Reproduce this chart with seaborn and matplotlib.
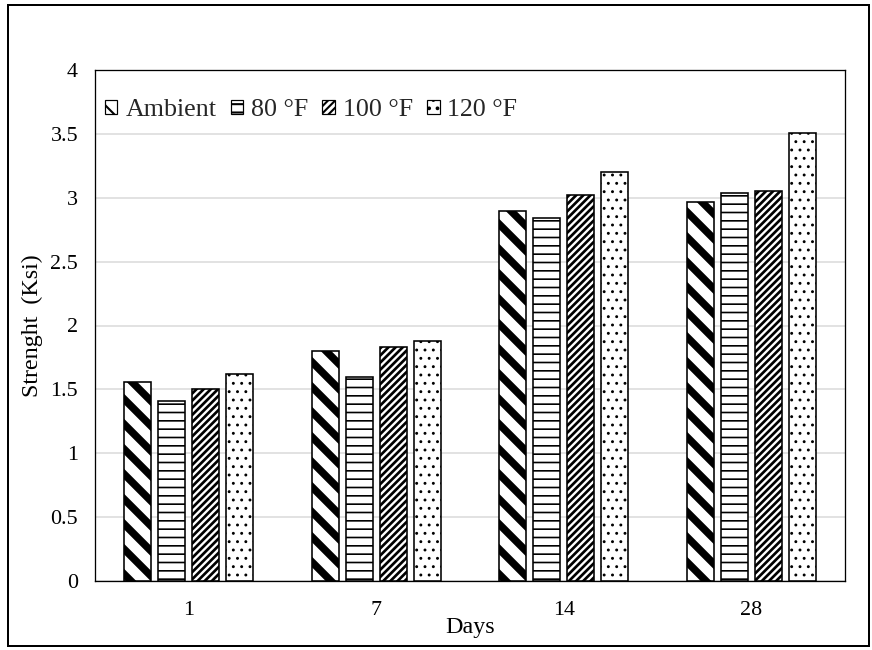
import matplotlib
matplotlib.use('Agg')
import matplotlib.pyplot as plt
import seaborn as sns
import pandas as pd
from matplotlib.patches import Patch, Rectangle

days = ['1', '7', '14', '28']
series = ['Ambient', '80 °F', '100 °F', '120 °F']
ambient = [1.56, 1.80, 2.90, 2.97]
f80 = [1.41, 1.60, 2.84, 3.04]
f100 = [1.50, 1.83, 3.02, 3.05]
f120 = [1.62, 1.875, 3.20, 3.51]
y_ticks = [0, 0.5, 1, 1.5, 2, 2.5, 3, 3.5, 4]
y_tick_labels = ['0', '0.5', '1', '1.5', '2', '2.5', '3', '3.5', '4']

rows = []
for name, vals in zip(series, [ambient, f80, f100, f120]):
    for d, v in zip(days, vals):
        rows.append({'Days': d, 'Strength': v, 'Series': name})
df = pd.DataFrame(rows)

DPI = 150
PX = 72.0 / DPI  # points per pixel

sns.set_theme(style='white')
plt.rcParams['font.family'] = ['Liberation Serif', 'DejaVu Serif']
plt.rcParams['hatch.color'] = 'black'

hatches = ['\\\\', '---', '///////', '...']
hatch_lw = [3.6, 0.8, 1.3, 0.6]

fig = plt.figure(figsize=(872 / DPI, 650 / DPI), dpi=DPI)
ax = fig.add_axes([95 / 872, (650 - 581) / 650, 750 / 872, 511 / 650])

sns.barplot(data=df, x='Days', y='Strength', hue='Series', order=days,
            hue_order=series, palette=['white'] * 4, width=0.725, gap=0.2,
            edgecolor='black', linewidth=1.6 * PX, saturation=1, errorbar=None,
            legend=False, ax=ax)

for cont, h, lw in zip(ax.containers, hatches, hatch_lw):
    for bar in cont:
        bar.set_hatch(h)
        if hasattr(bar, 'set_hatch_linewidth'):
            bar.set_hatch_linewidth(lw)
        bar.set_zorder(3)

ax.set_ylim(0, 4)
ax.set_yticks(y_ticks)
ax.set_yticklabels(y_tick_labels)
ax.yaxis.grid(True, color='#d9d9d9', linewidth=1.5 * PX)
ax.set_axisbelow(True)
for s in ax.spines.values():
    s.set_visible(True)
    s.set_color('black')
    s.set_linewidth(1.3 * PX)
ax.tick_params(axis='both', labelsize=22 * PX, colors='black', length=0)
ax.tick_params(axis='x', pad=20 * PX)
ax.tick_params(axis='y', pad=17 * PX)
ax.set_xlabel('Days', fontsize=24 * PX, color='black', labelpad=-3 * PX)
ax.set_ylabel('Strenght  (Ksi)', fontsize=24 * PX, color='black', labelpad=7 * PX)

handles = []
for name, h, lw in zip(series, hatches, hatch_lw):
    p = Patch(facecolor='white', edgecolor='black', hatch=h, linewidth=1.2 * PX, label=name)
    if hasattr(p, 'set_hatch_linewidth'):
        p.set_hatch_linewidth(lw)
    handles.append(p)
leg = ax.legend(handles=handles, loc='upper left', bbox_to_anchor=(10 / 750, 1 - 29 / 511),
                ncol=4, frameon=False, fontsize=26 * PX, handlelength=0.48,
                handleheight=0.48, handletextpad=0.3, columnspacing=0.55,
                borderaxespad=0, borderpad=0)

fig.patches.append(Rectangle((8 / 872, 4 / 650), 861 / 872, 641 / 650,
                             transform=fig.transFigure, fill=False,
                             edgecolor='black', linewidth=2 * PX))

fig.savefig('out.png', dpi=DPI)
